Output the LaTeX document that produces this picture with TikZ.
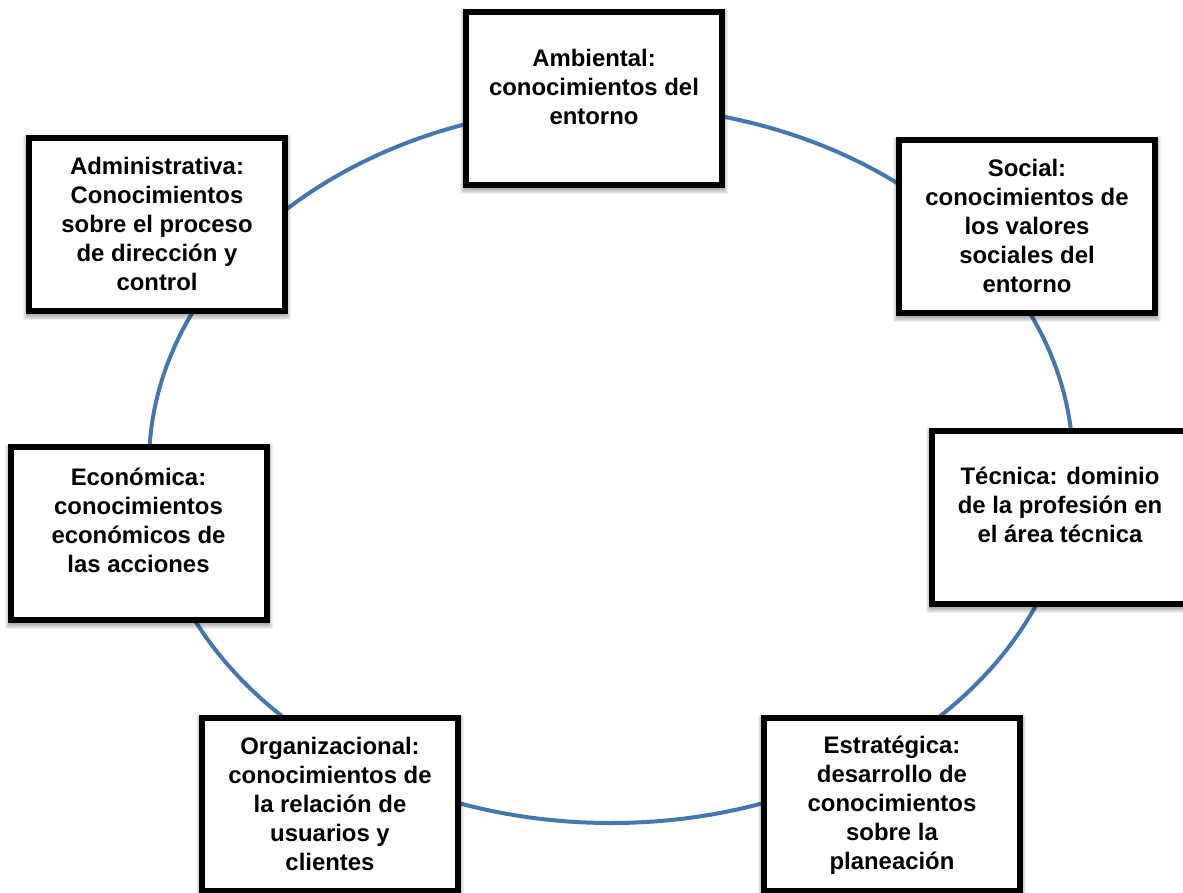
\documentclass[tikz,border=0pt]{standalone}
\usepackage{fontspec}
\setmainfont{Liberation Sans}
\usetikzlibrary{backgrounds}
\definecolor{ringblue}{RGB}{70,119,172}
\begin{document}
\begin{tikzpicture}[x=1pt,y=-1pt,
  kbox/.style={draw=black, line width=6pt, fill=white, minimum width=256pt, minimum height=173pt, inner sep=0pt, outer sep=0pt},
  ktext/.style={font=\bfseries\fontsize{23.9}{29}\selectfont, align=center, anchor=base, inner sep=0pt},
  ring/.style={draw=ringblue, line width=4pt},
  kshadow/.style={fill=black, opacity=0.06}]
\useasboundingbox (0,0) rectangle (1183,892);
% boxes
\node[kbox] (amb) at (594,98.5) {};
\node[kbox] (adm) at (157,224.5) {};
\node[kbox] (soc) at (1027,226) {};
\node[kbox] (eco) at (138.5,533.5) {};
\node[kbox] (tec) at (1060,517) {};
\node[kbox] (org) at (330,804.5) {};
\node[kbox] (est) at (892,804.5) {};
% texts (anchored at the baseline of their last line)
\node[ktext] (tamb) at (594,124) {Ambiental:\\conocimientos del\\entorno};
\node[ktext] (tadm) at (157,290) {Administrativa:\\Conocimientos\\sobre el proceso\\de dirección y\\control};
\node[ktext] (tsoc) at (1027,292) {Social:\\conocimientos de\\los valores\\sociales del\\entorno};
\node[ktext] (teco) at (138.5,572) {Económica:\\conocimientos\\económicos de\\las acciones};
\node[ktext] (ttec) at (1060,542) {Técnica: dominio\\de la profesión en\\el área técnica};
\node[ktext] (torg) at (330,870) {Organizacional:\\conocimientos de\\la relación de\\usuarios y\\clientes};
\node[ktext] (test) at (892,869) {Estratégica:\\desarrollo de\\conocimientos\\sobre la\\planeación};
\begin{scope}[on background layer]
  \fill[white] (0,0) rectangle (1183,892);
  \draw[ring] (611,464.5) ellipse [x radius=462, y radius=358.5];
  \foreach \n in {amb,adm,soc,eco,tec,org,est}{
    \foreach \e in {-2,-1,0,1,2,3}{
      \fill[kshadow] ([shift={(-3-\e,-\e)}]\n.north west) rectangle ([shift={(3+\e,6+\e)}]\n.south east);
    }
  }
\end{scope}
\end{tikzpicture}
\end{document}
